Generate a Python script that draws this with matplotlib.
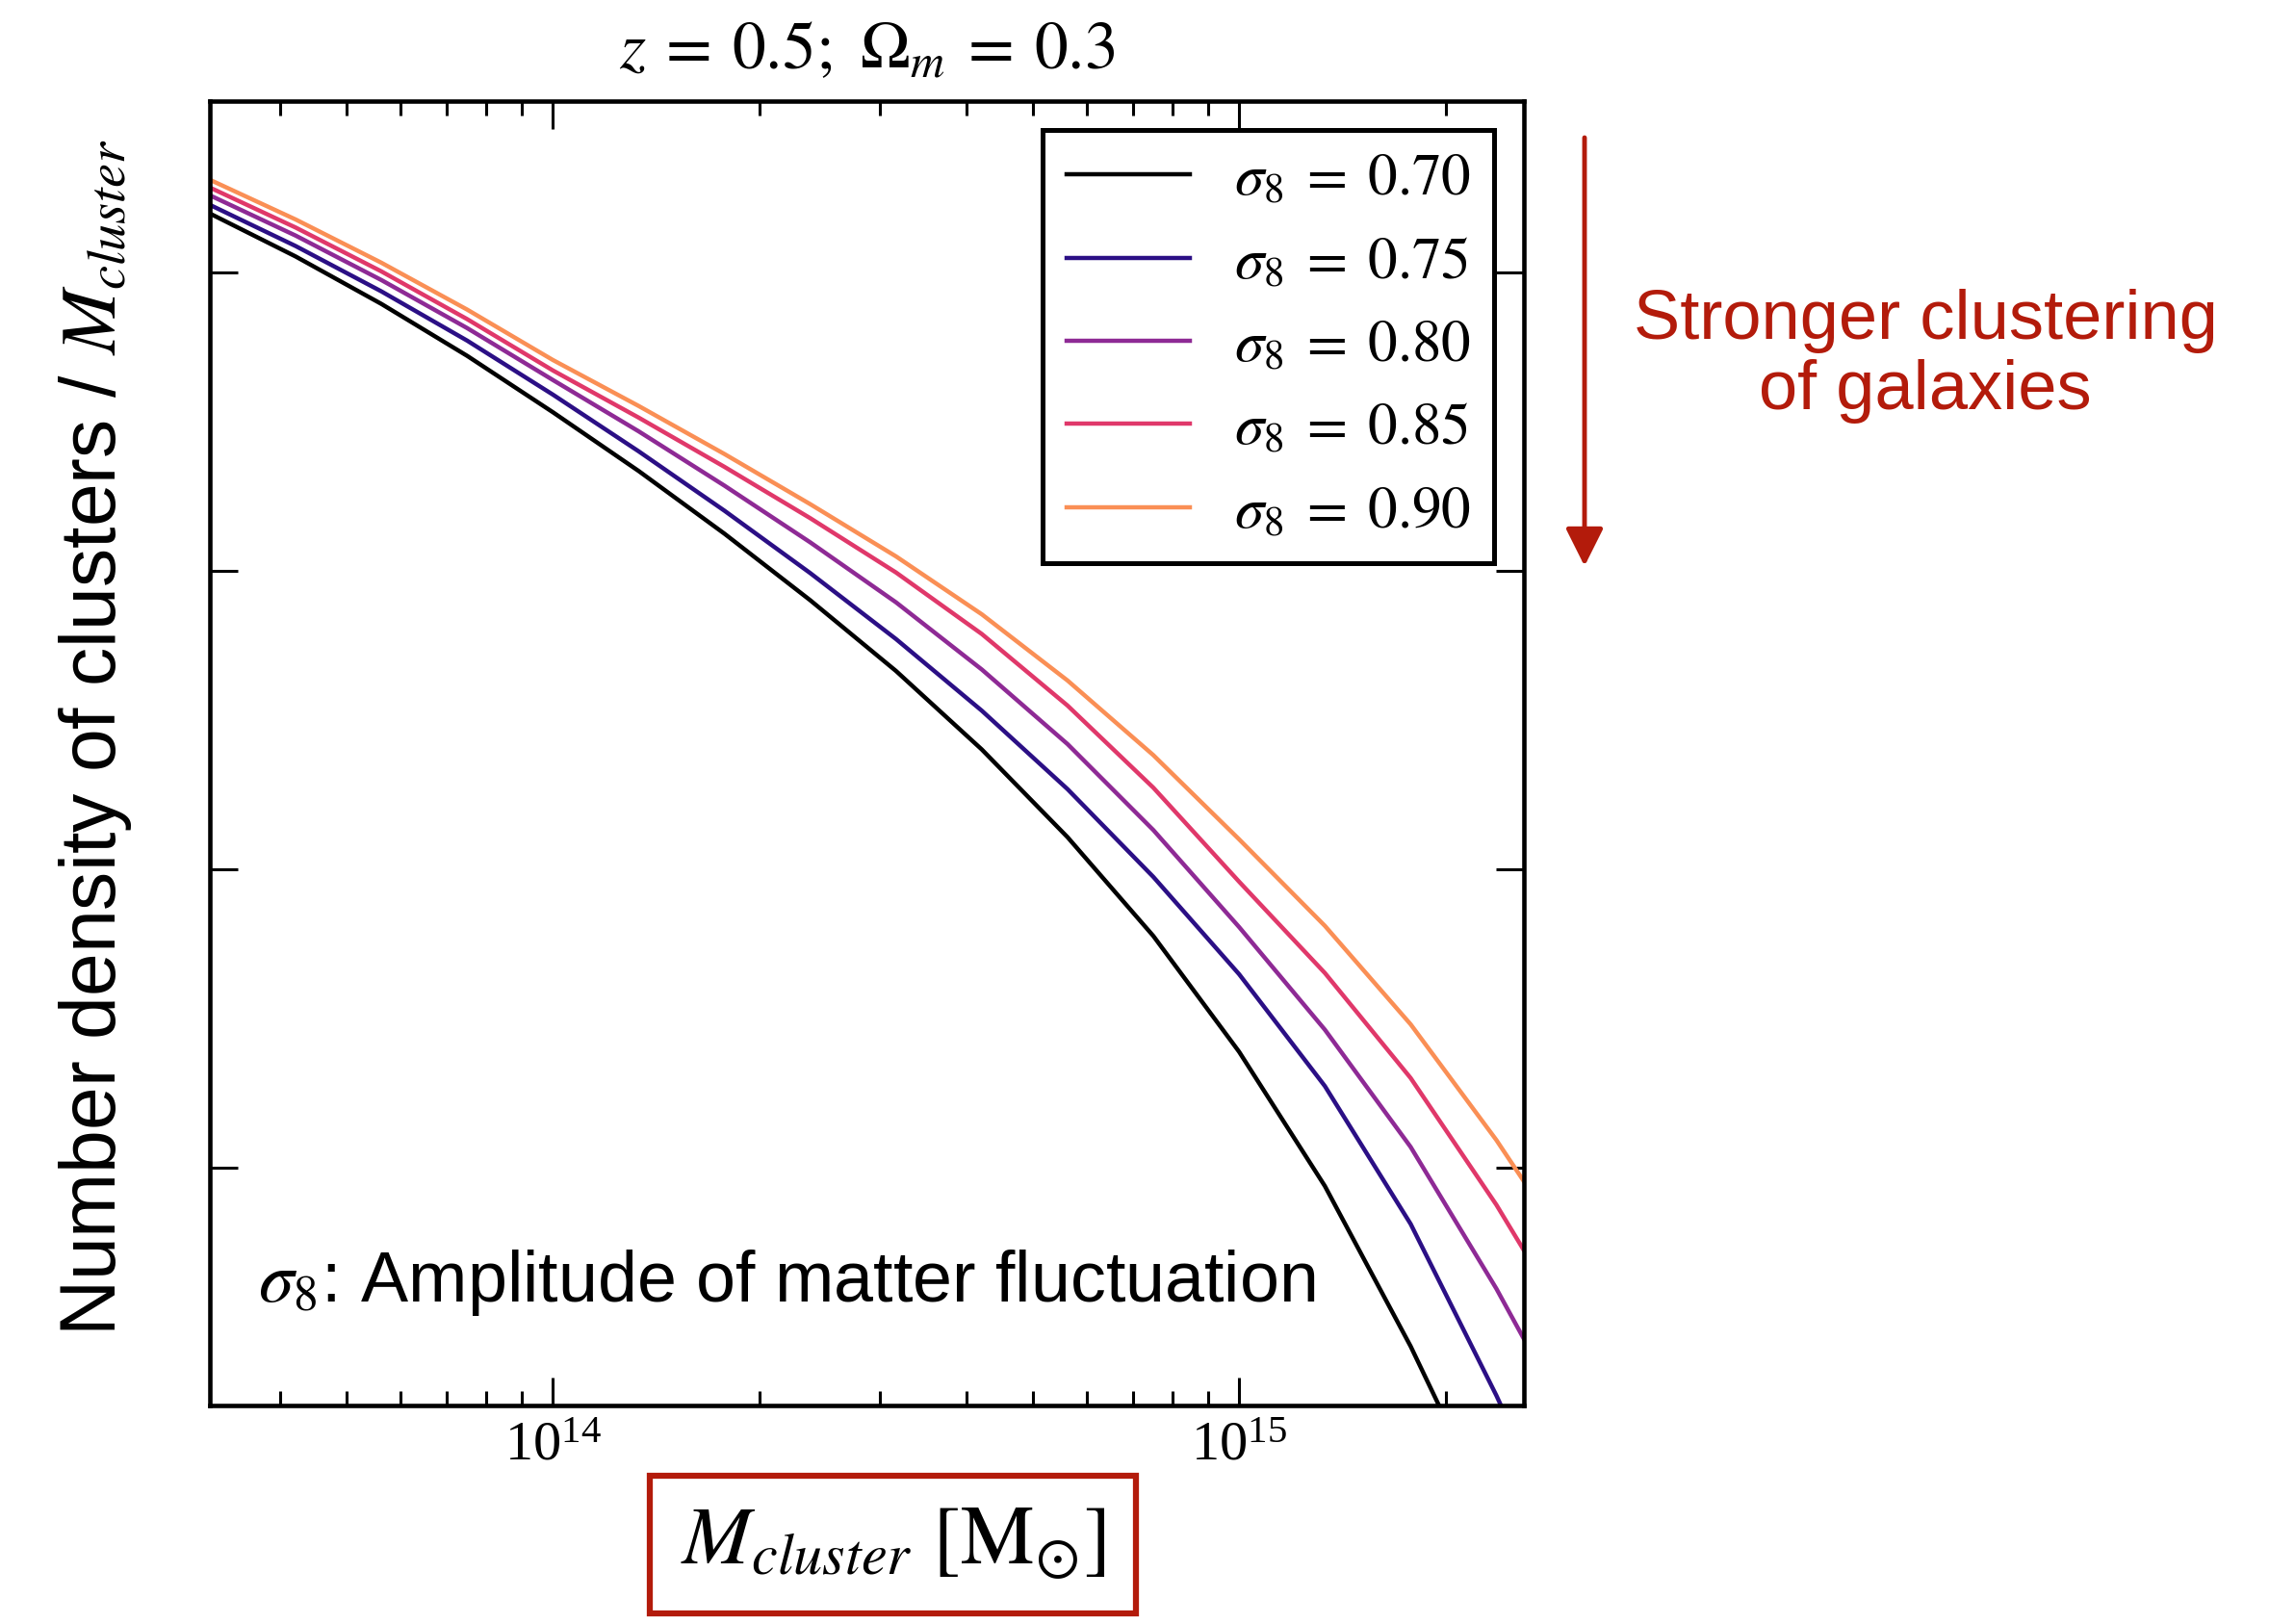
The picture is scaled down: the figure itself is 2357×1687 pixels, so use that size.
import numpy as np
import matplotlib.pyplot as plt
from matplotlib.ticker import FixedLocator, NullLocator, NullFormatter

plt.rcParams['font.family'] = 'Liberation Serif'
plt.rcParams['mathtext.fontset'] = 'stix'

# log10 of cluster mass [M_sun]
log_mass = [13.5, 13.625, 13.75, 13.875, 14.0, 14.125, 14.25, 14.375, 14.5,
            14.625, 14.75, 14.875, 15.0, 15.125, 15.25, 15.375, 15.415]

# log10 of number density / M_cluster (arbitrary units)
log_n_070 = [-4.803, -4.947, -5.106, -5.280, -5.469, -5.666, -5.876, -6.099, -6.336,
             -6.599, -6.893, -7.224, -7.612, -8.062, -8.599, -9.199, -9.410]
log_n_075 = [-4.774, -4.912, -5.064, -5.229, -5.410, -5.600, -5.799, -6.008, -6.229,
             -6.469, -6.732, -7.026, -7.352, -7.727, -8.189, -8.764, -8.964]
log_n_080 = [-4.742, -4.877, -5.026, -5.187, -5.361, -5.533, -5.715, -5.905, -6.106,
             -6.331, -6.581, -6.869, -7.194, -7.538, -7.931, -8.406, -8.574]
log_n_085 = [-4.716, -4.850, -4.997, -5.157, -5.329, -5.487, -5.652, -5.824, -6.006,
             -6.212, -6.452, -6.727, -7.042, -7.348, -7.700, -8.125, -8.277]
log_n_090 = [-4.690, -4.823, -4.968, -5.125, -5.294, -5.448, -5.609, -5.777, -5.952,
             -6.146, -6.368, -6.618, -6.900, -7.190, -7.520, -7.908, -8.046]

sigma8 = ["0.70", "0.75", "0.80", "0.85", "0.90"]
farger = ["#000000", "#2B0F85", "#8E2A95", "#E0386A", "#FA8F55"]
serier = [log_n_070, log_n_075, log_n_080, log_n_085, log_n_090]

red = "#B31B0B"

fig = plt.figure(figsize=(23.57, 16.87), dpi=100)
ax = fig.add_axes([0.0925, 0.1346, 0.5791, 0.8032])

mass = 10 ** np.array(log_mass)
for s, c, y in zip(sigma8, farger, serier):
    ax.plot(mass, 10 ** np.array(y), color=c, linewidth=3.2, label=r"$\sigma_8 \;=\; %s$" % s)

ax.set_xscale("log")
ax.set_yscale("log")
ax.set_xlim(10 ** 13.5, 10 ** 15.415)
ax.set_ylim(10 ** -8.797, 10 ** -4.426)

ax.yaxis.set_major_locator(FixedLocator([1e-5, 1e-6, 1e-7, 1e-8]))
ax.yaxis.set_major_formatter(NullFormatter())
ax.yaxis.set_minor_locator(NullLocator())
ax.xaxis.set_minor_formatter(NullFormatter())

ax.tick_params(which="both", direction="in", top=True, right=True, width=2.2)
ax.tick_params(which="major", length=21, labelsize=42, pad=12)
ax.tick_params(which="minor", length=11)
for sp in ax.spines.values():
    sp.set_linewidth(3.3)

ax.set_title(r"$z \:=\: 0.5;\ \Omega_m \:=\: 0.3$", fontsize=50, pad=24)

ax.set_ylabel("Number density of clusters / $M_{cluster}$", family="Liberation Sans", fontsize=58)
ax.yaxis.set_label_coords(-0.058, 0.512)

# x-axis label in a red box
fig.text(0.3937, 0.049, r"$M_{cluster}\ [\mathrm{M}_{\odot}]$", fontsize=62, ha="center", va="center",
         bbox=dict(boxstyle="square,pad=0.37", fc="white", ec=red, lw=4.5))

leg = ax.legend(loc="upper right", fontsize=44, fancybox=False, edgecolor="black", framealpha=1,
                borderaxespad=0.5, handlelength=2.1, handletextpad=0.75, labelspacing=0.5, borderpad=0.4)
leg.get_frame().set_linewidth(3.6)

ax.text(0.0366, 0.0797, r"$\sigma_8$: Amplitude of matter fluctuation", transform=ax.transAxes,
        family="Liberation Sans", fontsize=53, va="baseline")

# annotation to the right
fig.text(0.8486, 0.7807, "Stronger clustering\nof galaxies", ha="center", va="center", color=red,
         fontsize=52, family="Liberation Sans", linespacing=1.1)
ax.annotate("", xy=(1646 / 2357, 1 - 588 / 1687), xytext=(1646 / 2357, 1 - 143 / 1687),
            xycoords="figure fraction", textcoords="figure fraction",
            arrowprops=dict(arrowstyle="-|>", lw=3.5, color=red, mutation_scale=60, shrinkA=0, shrinkB=0))

fig.savefig("out.png", dpi=100)
